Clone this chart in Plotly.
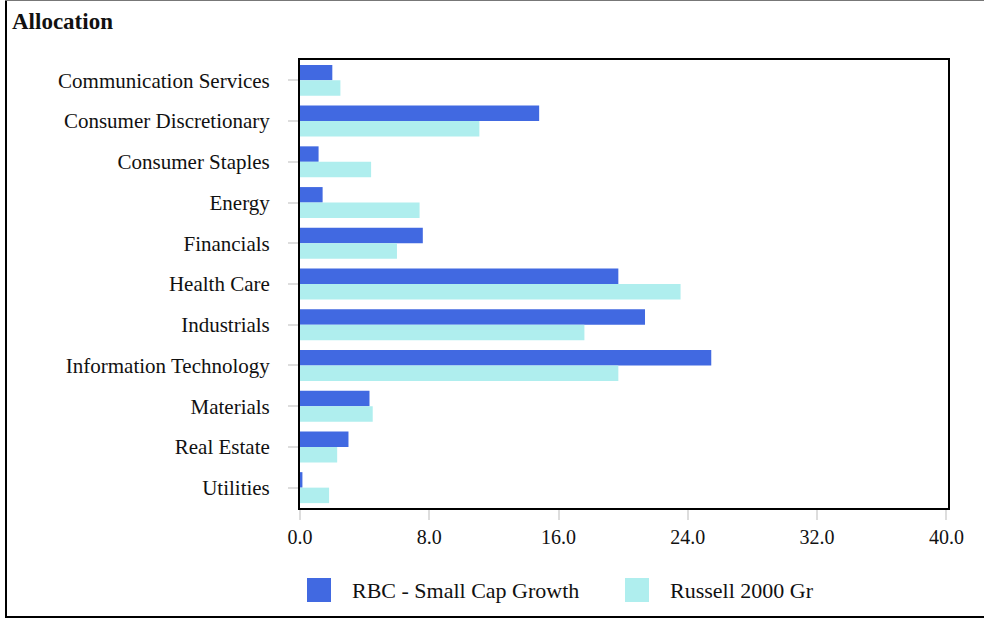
import plotly.graph_objects as go

SECTORS = [
    "Communication Services",
    "Consumer Discretionary",
    "Consumer Staples",
    "Energy",
    "Financials",
    "Health Care",
    "Industrials",
    "Information Technology",
    "Materials",
    "Real Estate",
    "Utilities",
]
RBC = [2.0, 14.8, 1.15, 1.4, 7.6, 19.7, 21.35, 25.45, 4.3, 3.0, 0.15]
RUSSELL = [2.5, 11.1, 4.4, 7.4, 6.0, 23.55, 17.6, 19.7, 4.5, 2.3, 1.8]
SERIES = ["RBC - Small Cap Growth", "Russell 2000 Gr"]
X_TICKS = [0, 8, 16, 24, 32, 40]

BLUE = "#4169E1"
TURQ = "#AFEEEE"
INK = "#111111"
FONT = "Liberation Serif, Times New Roman, serif"

W, H = 984, 619
L, R, T, B = 300, 36, 60, 111
PW, PH = W - L - R, H - T - B


def px_x(x):
    return (x - L) / PW


def px_y(y):
    return (H - B - y) / PH


fig = go.Figure()
fig.add_trace(go.Bar(y=SECTORS, x=RBC, name=SERIES[0], orientation="h",
                     marker=dict(color=BLUE, line=dict(width=0))))
fig.add_trace(go.Bar(y=SECTORS, x=RUSSELL, name=SERIES[1], orientation="h",
                     marker=dict(color=TURQ, line=dict(width=0))))

fig.update_layout(
    width=W,
    height=H,
    barmode="group",
    bargap=0.24,
    bargroupgap=0,
    paper_bgcolor="white",
    plot_bgcolor="white",
    font=dict(family=FONT, color=INK, size=20),
    margin=dict(l=L, r=R, t=T, b=B),
    title=dict(text="<b>Allocation</b>", x=12 / W, xanchor="left", y=1 - 21 / H, yanchor="middle",
               font=dict(size=23, family=FONT, color=INK)),
    showlegend=False,
)
fig.update_xaxes(
    range=[0, 40.1], tickvals=X_TICKS, ticktext=[f"{v:.1f}" for v in X_TICKS],
    showgrid=False, zeroline=False, showline=True, mirror=True, linecolor="black", linewidth=2,
    ticks="outside", ticklen=10, tickcolor="#DDDDDD", tickwidth=2, tickfont=dict(size=20),
)
fig.update_yaxes(
    autorange="reversed", showgrid=False, showline=True, mirror=True, linecolor="black", linewidth=2,
    ticks="outside", ticklen=10, tickcolor="#DDDDDD", tickwidth=2, ticklabelstandoff=14,
    tickfont=dict(size=21),
)

# legend drawn by hand for the large square swatches
for x0, color, name in [(307, BLUE, SERIES[0]), (625, TURQ, SERIES[1])]:
    fig.add_shape(type="rect", xref="paper", yref="paper", x0=px_x(x0), x1=px_x(x0 + 24),
                  y0=px_y(578), y1=px_y(602), fillcolor=color, line=dict(width=0))
    fig.add_annotation(xref="paper", yref="paper", x=px_x(x0 + 43), y=px_y(590), text=name,
                       showarrow=False, xanchor="left", yanchor="middle", font=dict(size=22))

# outer frame
fig.add_shape(type="line", xref="paper", yref="paper", x0=px_x(6), x1=px_x(6), y0=px_y(1), y1=px_y(617),
              line=dict(color="black", width=2))
fig.add_shape(type="line", xref="paper", yref="paper", x0=px_x(5), x1=px_x(984), y0=px_y(617), y1=px_y(617),
              line=dict(color="black", width=2))
fig.add_shape(type="line", xref="paper", yref="paper", x0=px_x(5), x1=px_x(984), y0=px_y(0.5), y1=px_y(0.5),
              line=dict(color="#777777", width=1))

fig.write_html("out.html", config={"displayModeBar": False},
               post_script="document.body.style.margin='0';")
